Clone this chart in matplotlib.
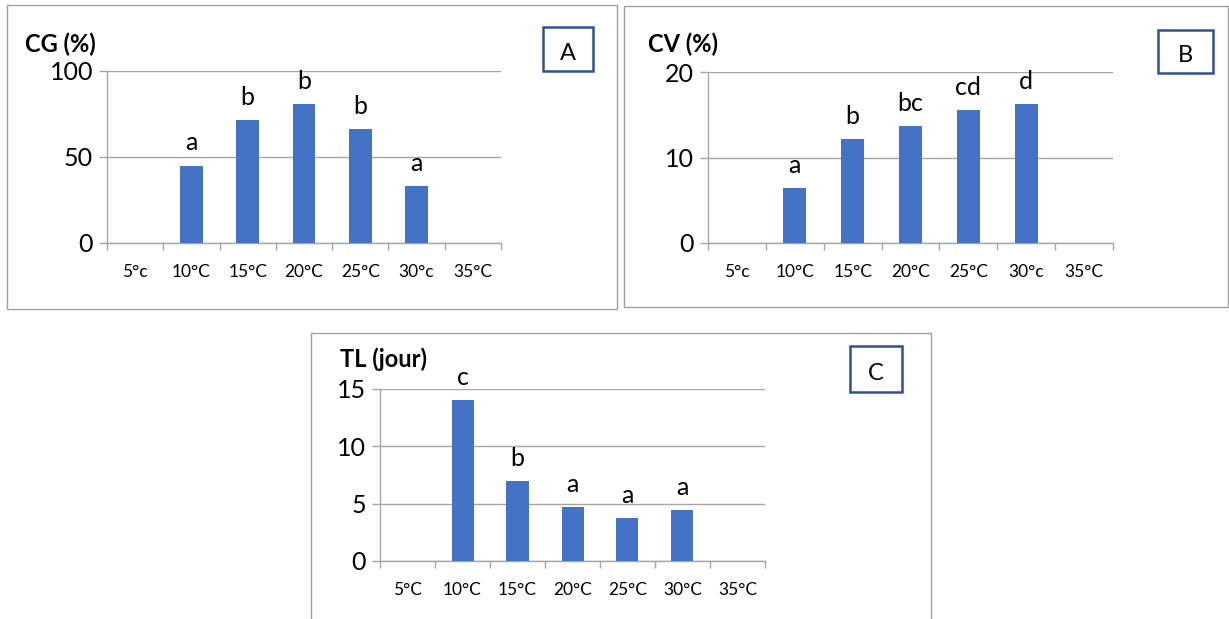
import matplotlib
matplotlib.use("Agg")
import matplotlib.pyplot as plt
from matplotlib.patches import Rectangle
import numpy as np

categories_A = ["5°c", "10°C", "15°C", "20°C", "25°C", "30°c", "35°C"]
categories_B = ["5°c", "10°C", "15°C", "20°C", "25°C", "30°c", "35°C"]
categories_C = ["5°C", "10°C", "15°C", "20°C", "25°C", "30°C", "35°C"]

cg_values = [0, 45, 71.5, 81, 66.3, 33.1, 0]
cg_letters = ["", "a", "b", "b", "b", "a", ""]

cv_values = [0, 6.4, 12.2, 13.7, 15.6, 16.25, 0]
cv_letters = ["", "a", "b", "bc", "cd", "d", ""]

tl_values = [0, 14.0, 6.95, 4.74, 3.72, 4.45, 0]
tl_letters = ["", "c", "b", "a", "a", "a", ""]

W, H = 1229, 619
FONT = "Lato"
BAR = "#4472C4"
GRID = "#A6A6A6"
BOXC = "#2F528F"

fig = plt.figure(figsize=(W / 100, H / 100), dpi=100)
fig.patch.set_facecolor("white")


def px_rect(x0, y0, x1, y1):
    return [x0 / W, 1 - y1 / H, (x1 - x0) / W, (y1 - y0) / H]


def frame(x0, y0, x1, y1):
    r = Rectangle((x0 / W, 1 - y1 / H), (x1 - x0) / W, (y1 - y0) / H,
                  transform=fig.transFigure, fill=False, edgecolor="#A0A0A0",
                  linewidth=1.0, zorder=0)
    fig.add_artist(r)


def letter_box(x0, y0, x1, y1, txt):
    r = Rectangle((x0 / W, 1 - y1 / H), (x1 - x0) / W, (y1 - y0) / H,
                  transform=fig.transFigure, fill=False, edgecolor=BOXC,
                  linewidth=1.8, zorder=5)
    fig.add_artist(r)
    fig.text((x0 + x1) / 2 / W, 1 - ((y0 + y1) / 2 + 4) / H, txt,
             ha="center", va="center", fontsize=17, family=FONT)


def panel(rect, cats, vals, letters, ymax, step, title, title_xy):
    ax = fig.add_axes(rect)
    x = np.arange(len(cats))
    ax.bar(x, vals, width=0.4, color=BAR, zorder=3)
    ax.set_xlim(-0.5, len(cats) - 0.5)
    ax.set_ylim(0, ymax)
    ax.set_yticks(np.arange(0, ymax + step / 2, step))
    ax.yaxis.grid(True, color=GRID, linewidth=1.0, zorder=0)
    ax.set_axisbelow(True)
    for s in ["top", "right"]:
        ax.spines[s].set_visible(False)
    for s in ["left", "bottom"]:
        ax.spines[s].set_color(GRID)
        ax.spines[s].set_linewidth(1.0)
    ax.set_xticks(x)
    ax.set_xticklabels(cats, fontsize=12.5, family=FONT)
    ax.set_xticks(np.arange(-0.5, len(cats)), minor=True)
    ax.tick_params(axis="x", which="major", length=0, pad=15)
    ax.tick_params(axis="x", which="minor", length=5, color=GRID, width=1.0)
    ax.tick_params(axis="y", length=6, color=GRID, width=1.0, pad=4,
                   labelsize=18)
    for lab in ax.get_yticklabels():
        lab.set_family(FONT)
    for xi, v, l in zip(x, vals, letters):
        if l:
            ax.annotate(l, (xi, v), xytext=(0, 8), textcoords="offset points",
                        ha="center", va="bottom", fontsize=18, family=FONT)
    fig.text(title_xy[0] / W, 1 - title_xy[1] / H, title, ha="left",
             va="center", fontsize=17, fontweight="bold", family=FONT)
    return ax


frame(7, 5, 617, 309)
frame(624, 6, 1228, 307)
frame(311, 333, 931, 640)

panel(px_rect(107, 71, 501, 243), categories_A, cg_values, cg_letters,
      100, 50, "CG (%)", (25, 44))
panel(px_rect(708, 72, 1113, 243), categories_B, cv_values, cv_letters,
      20, 10, "CV (%)", (648, 44))
panel(px_rect(380, 389, 765, 561), categories_C, tl_values, tl_letters,
      15, 5, "TL (jour)", (340, 359))

letter_box(543, 27, 593, 71, "A")
letter_box(1158, 30, 1213, 73, "B")
letter_box(850, 346, 902, 392, "C")

fig.savefig("out.png", dpi=100, facecolor="white")
